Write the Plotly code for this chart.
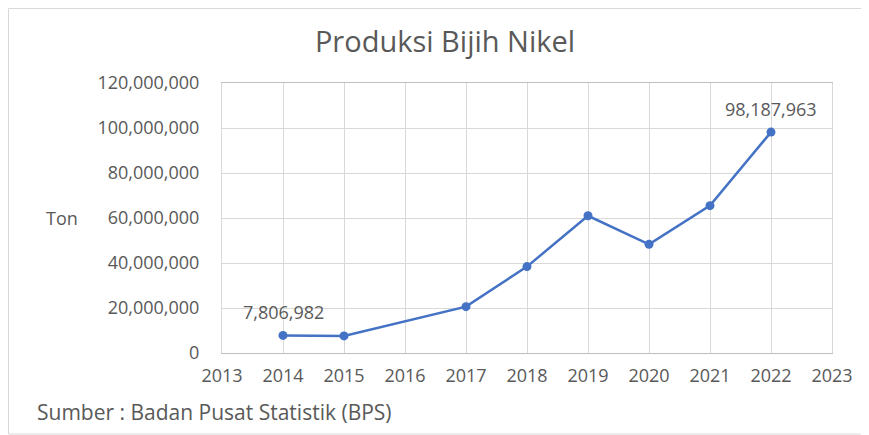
import plotly.graph_objects as go

years = [2014, 2015, 2017, 2018, 2019, 2020, 2021, 2022]
production = [7806982, 7600000, 20600000, 38400000, 61000000, 48300000, 65500000, 98187963]
labelled_years = [2014, 2022]
y_ticks = [0, 20000000, 40000000, 60000000, 80000000, 100000000, 120000000]
x_ticks = list(range(2013, 2024))

FONT = "Open Sans"
GRAY = "#595959"
BLUE = "#4472C4"

W, H = 861, 427
L, R, T, B = 214, 37, 75, 82
PW, PH = W - L - R, H - T - B

fig = go.Figure()
fig.add_trace(go.Scatter(
    x=years, y=production, mode="lines+markers",
    line=dict(color=BLUE, width=2.5),
    marker=dict(color=BLUE, size=9),
    hoverinfo="skip", showlegend=False,
))

for yr, val in zip(years, production):
    if yr in labelled_years:
        fig.add_annotation(x=yr, y=val, text=f"{val:,}", showarrow=False,
                           yshift=23, font=dict(family=FONT, size=18, color=GRAY))

fig.add_annotation(text="Ton", xref="paper", yref="paper", x=(54 - L) / PW, y=0.5,
                   showarrow=False, xanchor="center", yanchor="middle",
                   font=dict(family=FONT, size=18, color=GRAY))
fig.add_annotation(text="Sumber : Badan Pusat Statistik (BPS)", xref="paper", yref="paper",
                   x=(27 - L) / PW, y=-(404 - (H - B)) / PH, showarrow=False,
                   xanchor="left", yanchor="middle",
                   font=dict(family=FONT, size=21, color=GRAY))

# outer chart border
fig.add_shape(type="rect", xref="paper", yref="paper",
              x0=(0.5 - L) / PW, x1=(W + 5 - L) / PW,
              y0=-(426 - (H - B)) / PH, y1=(H - B - 0.5) / PH,
              line=dict(color="#d9d9d9", width=1))

fig.update_layout(
    width=W, height=H,
    margin=dict(l=L, r=R, t=T, b=B),
    paper_bgcolor="white", plot_bgcolor="white",
    title=dict(text="Produksi Bijih Nikel", x=437 / W, xref="container", xanchor="center",
               y=1 - 34 / H, yref="container", yanchor="middle",
               font=dict(family=FONT, size=29, color=GRAY)),
    xaxis=dict(range=[2013, 2023], tickvals=x_ticks, ticktext=[str(t) for t in x_ticks],
               showgrid=True, gridcolor="#d9d9d9", gridwidth=1,
               showline=True, linecolor="#bfbfbf", mirror=True, zeroline=False,
               ticks="", ticklabelstandoff=6,
               tickfont=dict(family=FONT, size=18, color=GRAY)),
    yaxis=dict(range=[0, 120000000], tickvals=y_ticks,
               ticktext=[f"{t:,}" for t in y_ticks],
               showgrid=True, gridcolor="#d9d9d9", gridwidth=1,
               showline=True, linecolor="#d9d9d9", mirror=True, zeroline=False,
               ticks="", ticklabelstandoff=18,
               tickfont=dict(family=FONT, size=18, color=GRAY)),
)

fig.write_html("out.html")
